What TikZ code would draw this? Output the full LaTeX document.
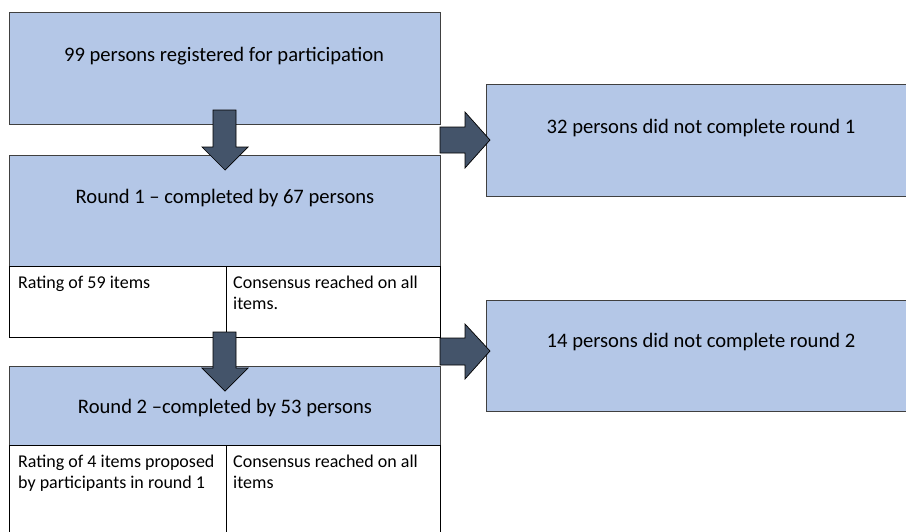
\documentclass[tikz,border=0pt]{standalone}
\usepackage{fontspec}
\setmainfont{Carlito}
\definecolor{boxblue}{HTML}{B4C7E7}
\definecolor{arrowslate}{HTML}{44546A}
\tikzset{
  bluebox/.style={draw=black!75, fill=boxblue, line width=0.9pt},
  cellbox/.style={draw=black, fill=white, line width=0.9pt},
  bigtext/.style={font=\fontsize{20.6}{24}\selectfont, inner sep=0pt},
  celltext/.style={font=\fontsize{18}{20.5}\selectfont, align=left, anchor=north west, inner sep=0pt},
  blockarrow/.style={draw=black, fill=arrowslate, line width=0.7pt, line join=miter}
}
\begin{document}
\begin{tikzpicture}[x=1pt,y=-1pt]
\clip (0,0) rectangle (906,531);
\fill[white] (0,0) rectangle (906,531);
% left column
\path[bluebox] (9,12) rectangle (440,124);
\node[bigtext] (reg) at (224,56) {99 persons registered for participation};
\path[bluebox] (9,155) rectangle (440,266);
\node[bigtext] (r1) at (225,198) {Round 1 – completed by 67 persons};
\path[cellbox] (9,266) rectangle (226,337);
\path[cellbox] (226,266) rectangle (440,337);
\node[celltext] (r1a) at (18,276) {Rating of 59 items};
\node[celltext] (r1b) at (233,276) {Consensus reached on all\\items.};
\path[bluebox] (9,366) rectangle (440,445);
\node[bigtext] (r2) at (225,408) {Round 2 –completed by 53 persons};
\path[cellbox] (9,445) rectangle (226,545);
\path[cellbox] (226,445) rectangle (440,545);
\node[celltext] (r2a) at (18,455) {Rating of 4 items proposed\\by participants in round 1};
\node[celltext] (r2b) at (233,455) {Consensus reached on all\\items};
% right column
\path[bluebox] (486,84) rectangle (915,196);
\node[bigtext] (nc1) at (701,128) {32 persons did not complete round 1};
\path[bluebox] (486,300) rectangle (915,411);
\node[bigtext] (nc2) at (701,342) {14 persons did not complete round 2};
% block arrows
\draw[blockarrow] (213,110) -- (236,110) -- (236,147) -- (248,147) -- (225,170) -- (202,147) -- (213,147) -- cycle;
\draw[blockarrow] (213,332) -- (236,332) -- (236,368) -- (248,368) -- (225,391) -- (202,368) -- (213,368) -- cycle;
\draw[blockarrow] (440,127) -- (465,127) -- (465,112) -- (490,140) -- (465,168) -- (465,153) -- (440,153) -- cycle;
\draw[blockarrow] (440,338) -- (465,338) -- (465,324) -- (490,351) -- (465,379) -- (465,365) -- (440,365) -- cycle;
\end{tikzpicture}
\end{document}
